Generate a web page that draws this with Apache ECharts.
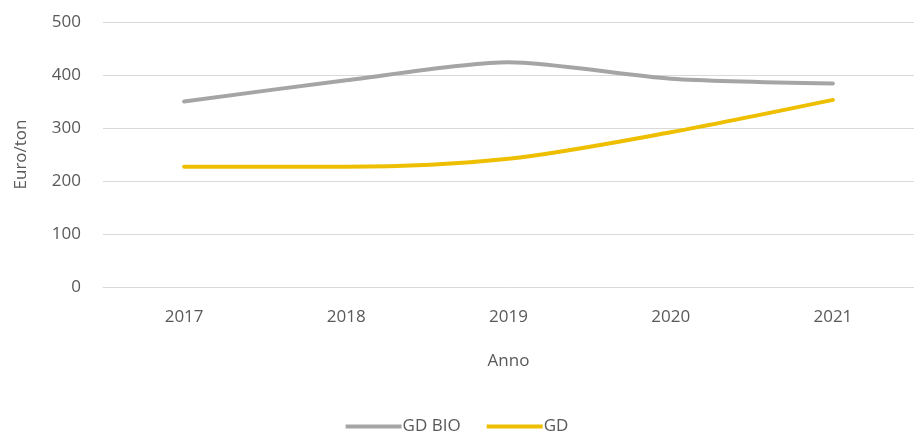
<!DOCTYPE html>
<html>
<head>
<meta charset="utf-8">
<script src="https://cdn.jsdelivr.net/npm/echarts@6/dist/echarts.min.js"></script>
<style>
html,body{margin:0;padding:0;background:#fff;}
#chart{width:914px;height:440px;}
</style>
</head>
<body>
<div id="chart"></div>
<script>
const years = ['2017', '2018', '2019', '2020', '2021'];
const gdBio = [350, 390, 424, 393, 384];
const gd = [227, 227, 242, 292, 353];
const yTicks = [0, 100, 200, 300, 400, 500];

const font = 'Open Sans';
const textColor = '#595959';
const chart = echarts.init(document.getElementById('chart'));
chart.setOption({
  animation: false,
  backgroundColor: '#ffffff',
  textStyle: {fontFamily: font},
  grid: {left: 103, right: -7, top: 22, bottom: 153},
  legend: {
    bottom: 0,
    left: 'center',
    itemWidth: 56,
    itemHeight: 14,
    itemGap: 26,
    textStyle: {color: textColor, fontSize: 17, fontFamily: font, padding: [0, 0, 0, -4]},
    data: [
      {name: 'GD BIO', icon: 'path://M0,0 L56,0 L56,4 L0,4 Z'},
      {name: 'GD', icon: 'path://M0,0 L56,0 L56,4 L0,4 Z'}
    ]
  },
  xAxis: {
    type: 'category',
    data: years,
    boundaryGap: true,
    name: 'Anno',
    nameLocation: 'middle',
    nameGap: 66,
    nameTextStyle: {color: textColor, fontSize: 17, fontFamily: font},
    axisLine: {show: true, lineStyle: {color: '#d9d9d9', width: 1}},
    axisTick: {show: false},
    axisLabel: {color: textColor, fontSize: 17, fontFamily: font, margin: 22}
  },
  yAxis: {
    type: 'value',
    min: yTicks[0],
    max: yTicks[yTicks.length - 1],
    interval: 100,
    name: 'Euro/ton',
    nameLocation: 'middle',
    nameGap: 73,
    nameRotate: 90,
    nameTextStyle: {color: textColor, fontSize: 17, fontFamily: font},
    axisLine: {show: false},
    axisTick: {show: false},
    axisLabel: {color: textColor, fontSize: 17, fontFamily: font, margin: 22},
    splitLine: {lineStyle: {color: '#d9d9d9', width: 1}}
  },
  series: [
    {
      name: 'GD BIO',
      type: 'line',
      data: gdBio,
      smooth: 0.25,
      showSymbol: false,
      symbol: 'none',
      color: '#a5a5a5',
      lineStyle: {color: '#a5a5a5', width: 4, cap: 'round'}
    },
    {
      name: 'GD',
      type: 'line',
      data: gd,
      smooth: 0.3,
      showSymbol: false,
      symbol: 'none',
      color: '#edbf00',
      lineStyle: {color: '#edbf00', width: 4, cap: 'round'}
    }
  ]
});
</script>
</body>
</html>
